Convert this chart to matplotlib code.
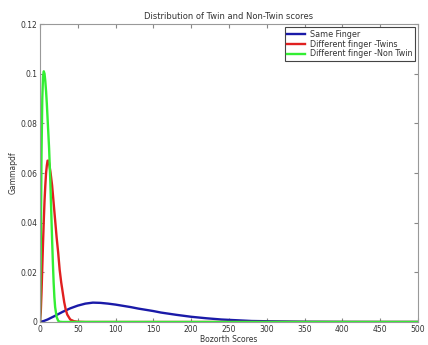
import matplotlib
matplotlib.use("Agg")
import matplotlib.pyplot as plt

# curves
x_same = [0, 5, 10, 20, 30, 40, 50, 60, 70, 80, 90, 100, 110, 120, 130, 140, 150,
          160, 180, 200, 220, 240, 260, 280, 300, 350, 400, 450, 500]
y_same = [0, 0.0004, 0.0010, 0.0025, 0.0041, 0.0055, 0.0066, 0.0074, 0.0078, 0.0077,
          0.0074, 0.0070, 0.0065, 0.0060, 0.0054, 0.0049, 0.0044, 0.0038, 0.0029,
          0.0021, 0.0015, 0.0010, 0.0007, 0.0004, 0.0003, 0.0001, 0.00003, 0, 0]

x_twin = [0, 1, 2, 3, 4, 5, 6, 7, 8, 9, 10, 11, 12, 13, 14, 16, 18, 20, 22, 24, 26,
          28, 30, 32, 34, 36, 38, 40, 45, 50, 60, 500]
y_twin = [0, 0.004, 0.012, 0.022, 0.032, 0.041, 0.049, 0.055, 0.060, 0.063, 0.065,
          0.065, 0.064, 0.062, 0.060, 0.055, 0.048, 0.041, 0.034, 0.028, 0.021, 0.016,
          0.012, 0.008, 0.005, 0.003, 0.002, 0.001, 0.0003, 0.0001, 0, 0]

x_nontwin = [0, 1, 2, 3, 4, 5, 6, 7, 8, 9, 10, 11, 12, 13, 14, 15, 16, 17, 18, 19, 20,
             22, 24, 26, 30, 500]
y_nontwin = [0, 0.030, 0.068, 0.090, 0.099, 0.101, 0.100, 0.097, 0.093, 0.088, 0.082,
             0.076, 0.070, 0.062, 0.053, 0.043, 0.033, 0.024, 0.016, 0.010, 0.006,
             0.002, 0.0005, 0.0001, 0, 0]

labels = ['Same Finger', 'Different finger -Twins', 'Different finger -Non Twin']
xticks = [0, 50, 100, 150, 200, 250, 300, 350, 400, 450, 500]
yticks = [0, 0.02, 0.04, 0.06, 0.08, 0.1, 0.12]
ytick_labels = ['0', '0.02', '0.04', '0.06', '0.08', '0.1', '0.12']

fig = plt.figure(figsize=(4.28, 3.45), dpi=100)
ax = fig.add_axes([0.0935, 0.0667, 0.883, 0.8633])

ax.plot(x_same, y_same, color='#1a1aa8', lw=1.7, label=labels[0])
ax.plot(x_twin, y_twin, color='#e02020', lw=1.7, label=labels[1])
ax.plot(x_nontwin, y_nontwin, color='#33ee33', lw=1.7, label=labels[2])

ax.set_xlim(0, 500)
ax.set_ylim(0, 0.12)
ax.set_xticks(xticks)
ax.set_yticks(yticks)
ax.set_yticklabels(ytick_labels)
ax.tick_params(direction='in', top=True, right=True, labelsize=5.5, length=3,
               color='#888888', labelcolor='#333333', pad=2)
for s in ax.spines.values():
    s.set_color('#999999')
    s.set_linewidth(0.8)

ax.set_title('Distribution of Twin and Non-Twin scores', fontsize=6, color='#333333', pad=4)
ax.set_xlabel('Bozorth Scores', fontsize=5.5, color='#333333', labelpad=1)
ax.set_ylabel('Gammapdf', fontsize=5.5, color='#333333', labelpad=2)

leg = ax.legend(loc='upper right', fontsize=5.8, handlelength=2.2, borderpad=0.3,
                labelspacing=0.1, handletextpad=0.6, fancybox=False, framealpha=1,
                borderaxespad=0.4)
leg.get_frame().set_edgecolor('#444444')
leg.get_frame().set_linewidth(0.8)
for t in leg.get_texts():
    t.set_color('#333333')

fig.savefig('out.png', dpi=100)
